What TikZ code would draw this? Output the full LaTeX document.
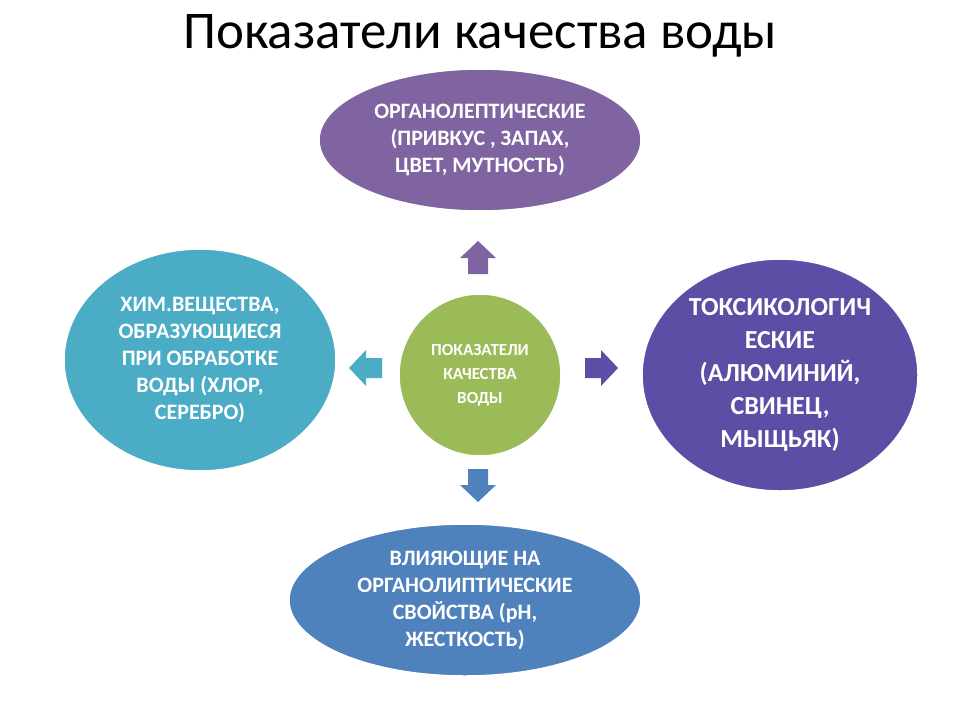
\documentclass[tikz,border=0pt]{standalone}
\usepackage{fontspec}
\setmainfont{Carlito}
\usetikzlibrary{shapes.geometric}
\definecolor{organo}{HTML}{8064A2}
\definecolor{himcol}{HTML}{4BACC6}
\definecolor{toxcol}{HTML}{5B4EA5}
\definecolor{vliycol}{HTML}{4F81BD}
\definecolor{centcol}{HTML}{9BBB59}
\tikzset{
  blob/.style={ellipse, draw=white, line width=1.5pt, text=white, align=center, inner sep=0pt},
  barrow/.pic={\fill (-16,-10) -- (0,-10) -- (0,-18) -- (17,0) -- (0,18) -- (0,10) -- (-16,10) -- cycle;},
}
\begin{document}
\begin{tikzpicture}[x=1pt,y=-1pt]
\useasboundingbox (0,0) rectangle (960,720);
\node (title) at (480,36) {\fontsize{53}{55}\selectfont Показатели качества воды};
\node[blob, fill=organo, minimum width=322, minimum height=142, font=\bfseries\fontsize{22}{27}\selectfont] (organo) at (480,140)
  {ОРГАНОЛЕПТИЧЕСКИЕ\\(ПРИВКУС , ЗАПАХ,\\ЦВЕТ, МУТНОСТЬ)};
\node[blob, fill=himcol, minimum width=272, minimum height=222, font=\bfseries\fontsize{22}{27}\selectfont] (him) at (200,360)
  {ХИМ.ВЕЩЕСТВА,\\ОБРАЗУЮЩИЕСЯ\\ПРИ ОБРАБОТКЕ\\ВОДЫ (ХЛОР,\\СЕРЕБРО)};
\node[blob, fill=toxcol, minimum width=276, minimum height=232, font=\bfseries\fontsize{26}{33}\selectfont] (tox) at (780,375)
  {ТОКСИКОЛОГИЧ\\ЕСКИЕ\\(АЛЮМИНИЙ,\\СВИНЕЦ,\\МЫЩЬЯК)};
\node[blob, fill=vliycol, minimum width=352, minimum height=152, font=\bfseries\fontsize{22}{27}\selectfont] (vliy) at (465,600)
  {ВЛИЯЮЩИЕ НА\\ОРГАНОЛИПТИЧЕСКИЕ\\СВОЙСТВА (pH,\\ЖЕСТКОСТЬ)};
\node[blob, circle, fill=centcol, minimum size=162, font=\bfseries\fontsize{17}{24}\selectfont] (cent) at (480,375)
  {ПОКАЗАТЕЛИ\\КАЧЕСТВА\\ВОДЫ};
\pic[organo, rotate=90] (aup) at (478,258) {barrow};
\pic[toxcol] (aright) at (601,368) {barrow};
\pic[himcol, rotate=180] (aleft) at (366,368) {barrow};
\pic[vliycol, rotate=-90] (adown) at (478,485) {barrow};
\end{tikzpicture}
\end{document}
